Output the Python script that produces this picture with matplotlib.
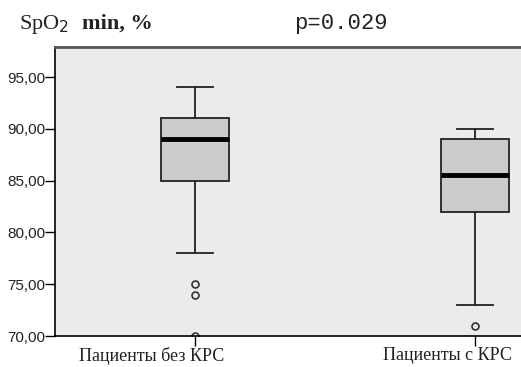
import matplotlib.pyplot as plt
from matplotlib.transforms import ScaledTranslation

# данные для boxplot
groups = ['Пациенты без КРС', 'Пациенты с КРС']
whislo = [78, 73]
q1 = [85, 82]
med = [89, 85.5]
q3 = [91, 89]
whishi = [94, 90]
fliers = [[75, 74, 70], [71]]

stats = []
for i in range(len(groups)):
    stats.append({'whislo': whislo[i], 'q1': q1[i], 'med': med[i], 'q3': q3[i],
                  'whishi': whishi[i], 'fliers': fliers[i], 'label': groups[i]})

fig = plt.figure(figsize=(5.21, 3.67), dpi=100)
ax = fig.add_axes([55/521, 31/367, 466/521, 289/367])
ax.set_facecolor('#ebebeb')

ax.bxp(stats, positions=[1, 2], widths=0.24, patch_artist=True,
       boxprops=dict(facecolor='#cbcbcb', edgecolor='#222222', linewidth=1.3),
       medianprops=dict(color='black', linewidth=3.5),
       whiskerprops=dict(color='#222222', linewidth=1.3),
       capprops=dict(color='#222222', linewidth=1.3),
       capwidths=0.13,
       flierprops=dict(marker='o', markerfacecolor='none', markeredgecolor='#333333',
                       markersize=5, markeredgewidth=1.2))

ax.set_xlim(0.5, 0.5 + 466/280)
ax.set_ylim(70, 97.9)
ax.set_yticks([70, 75, 80, 85, 90, 95])
ax.set_yticklabels(['70,00', '75,00', '80,00', '85,00', '90,00', '95,00'],
                   family='Liberation Sans', fontsize=11, color='#222222')
ax.set_xticks([1, 2])
ax.set_xticklabels(groups, family='Liberation Serif', fontsize=13, color='#222222')
ax.tick_params(axis='y', length=7, width=1, pad=0)
ax.tick_params(axis='x', length=7, width=1, pad=1)

# подписи по оси X сдвинуты влево относительно рисок
shifts = [-43, -28]
for lab, dx in zip(ax.get_xticklabels(), shifts):
    lab.set_transform(lab.get_transform() + ScaledTranslation(dx/100, 0, fig.dpi_scale_trans))

ax.spines['right'].set_visible(False)
ax.spines['top'].set_color('#555555')
ax.spines['top'].set_linewidth(2)
ax.spines['left'].set_linewidth(1.2)
ax.spines['bottom'].set_linewidth(1.2)

fig.text(19/521, 1 - 24/367, 'SpO$_2$', family='Liberation Serif', fontsize=16,
         va='center', color='#222222')
fig.text(82/521, 1 - 24/367, 'min, %', family='Liberation Serif', fontsize=16,
         fontweight='bold', va='center', color='#222222')
fig.text(294/521, 1 - 24/367, 'p=0.029', family='Liberation Mono', fontsize=16,
         va='center', color='#222222')

fig.savefig('out.png', dpi=100)
